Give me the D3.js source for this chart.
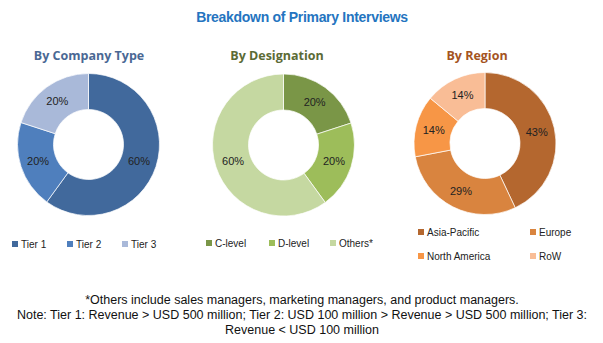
<!DOCTYPE html>
<html>
<head>
<meta charset="utf-8">
<script src="https://cdn.jsdelivr.net/npm/d3@7"></script>
<style>
  html, body { margin: 0; padding: 0; background: #fff; }
  svg { display: block; }
</style>
</head>
<body>
<svg id="chart" width="603" height="343"></svg>
<script>
// Breakdown data for the three donuts
const companyTypes = ["Tier 1", "Tier 2", "Tier 3"];
const companyValues = [60, 20, 20];
const companyColors = ["#41699c", "#4f7fbd", "#a9b9d9"];

const designations = ["C-level", "D-level", "Others*"];
const designationValues = [20, 20, 60];
const designationColors = ["#7a9647", "#9dbd5a", "#c5d8a1"];

const regions = ["Asia-Pacific", "Europe", "North America", "RoW"];
const regionValues = [43, 29, 14, 14];
const regionColors = ["#b4672f", "#d9843f", "#f79646", "#f9bd96"];

const footnotes = [
  "*Others include sales managers, marketing managers, and product managers.",
  "Note: Tier 1: Revenue > USD 500 million; Tier 2: USD 100 million > Revenue > USD 500 million; Tier 3:",
  "Revenue < USD 100 million"
];

const svg = d3.select("#chart");

svg.append("text")
  .attr("x", 302).attr("y", 22)
  .attr("text-anchor", "middle")
  .attr("font-family", "Liberation Sans, Arial")
  .attr("font-weight", "bold")
  .attr("font-size", 14)
  .attr("letter-spacing", -0.3)
  .attr("fill", "#2474c0")
  .text("Breakdown of Primary Interviews");

const pie = d3.pie().sort(null).value(d => d.value);
const arc = d3.arc().innerRadius(35).outerRadius(71);
const labelArc = d3.arc().innerRadius(53).outerRadius(53);

function donut(cfg) {
  const data = cfg.labels.map((l, i) => ({ label: l, value: cfg.values[i], color: cfg.colors[i] }));
  const g = svg.append("g").attr("transform", `translate(${cfg.cx},${cfg.cy})`);
  const arcs = pie(data);
  g.selectAll("path").data(arcs).join("path")
    .attr("d", arc)
    .attr("fill", d => d.data.color)
    .attr("stroke", "#fff")
    .attr("stroke-width", 0.7);
  g.selectAll("text").data(arcs).join("text")
    .attr("transform", d => `translate(${labelArc.centroid(d)})`)
    .attr("text-anchor", "middle")
    .attr("dy", "0.35em")
    .attr("font-family", "Liberation Sans, Arial")
    .attr("font-size", 11)
    .attr("fill", "#222")
    .text(d => d.data.value + "%");

  svg.append("text")
    .attr("x", cfg.titleX).attr("y", 60)
    .attr("text-anchor", "middle")
    .attr("font-family", "Open Sans, Liberation Sans, Arial")
    .attr("font-weight", "bold")
    .attr("font-size", 12.5)
    .attr("fill", cfg.titleColor)
    .text(cfg.title);

  const lg = svg.append("g")
    .attr("font-family", "Liberation Sans, Arial")
    .attr("font-size", 10)
    .attr("fill", "#222");
  data.forEach((d, i) => {
    const p = cfg.legendPos[i];
    lg.append("rect").attr("x", p[0]).attr("y", p[1] - 7).attr("width", 6).attr("height", 6).attr("fill", d.color);
    lg.append("text").attr("x", p[0] + 9).attr("y", p[1]).text(d.label);
  });
}

donut({
  cx: 88.5, cy: 144.5, labels: companyTypes, values: companyValues, colors: companyColors,
  title: "By Company Type", titleX: 89, titleColor: "#4a6894",
  legendPos: [[12, 248], [67, 248], [122, 248]]
});
donut({
  cx: 283.5, cy: 145, labels: designations, values: designationValues, colors: designationColors,
  title: "By Designation", titleX: 277, titleColor: "#5b6b35",
  legendPos: [[206, 247], [269, 247], [330, 247]]
});
donut({
  cx: 485, cy: 143.5, labels: regions, values: regionValues, colors: regionColors,
  title: "By Region", titleX: 477, titleColor: "#a4541f",
  legendPos: [[418, 236], [530, 236], [418, 260], [530, 260]]
});

svg.append("g").selectAll("text").data(footnotes).join("text")
  .attr("x", 302)
  .attr("y", (d, i) => 304 + i * 15)
  .attr("text-anchor", "middle")
  .attr("font-family", "Liberation Sans, Arial")
  .attr("font-size", 12.5)
  .attr("fill", "#111")
  .text(d => d);
</script>
</body>
</html>
